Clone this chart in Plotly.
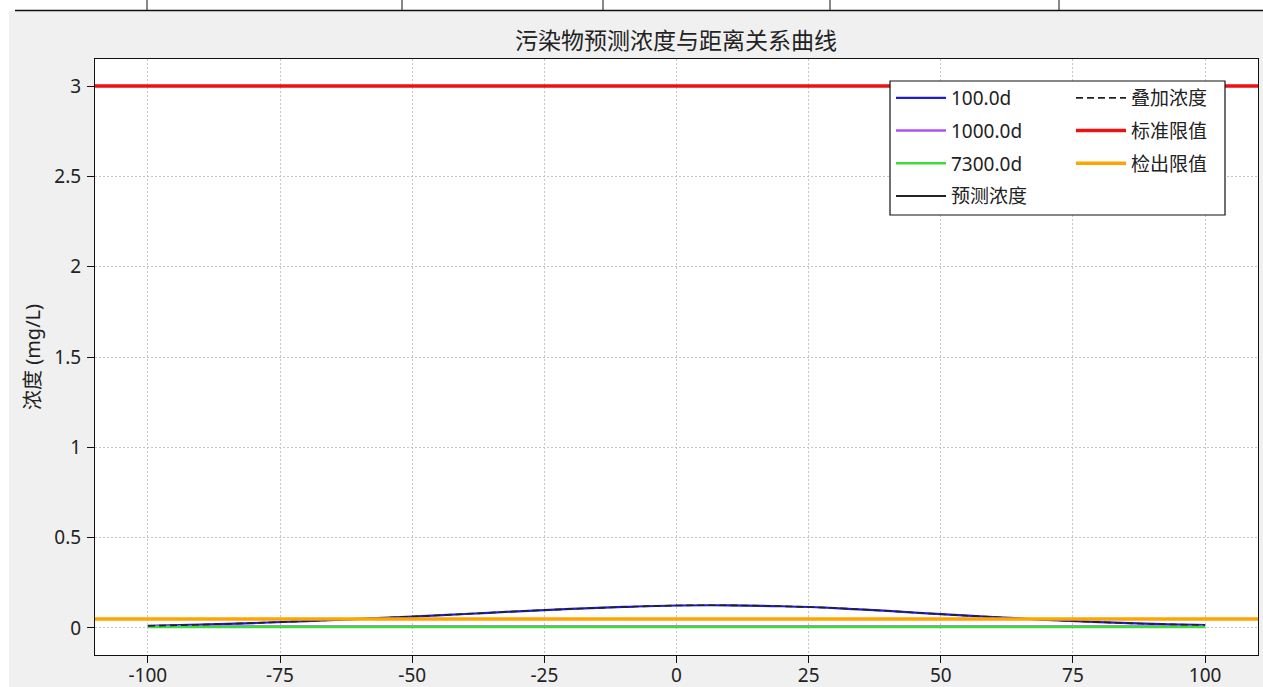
import plotly.graph_objects as go

# ---------------- data ----------------
distance = [-100, -90, -80, -70, -60, -50, -40, -30, -20, -10, 0,
            10, 20, 30, 40, 50, 60, 70, 80, 90, 100]
conc_100d = [0.011, 0.018, 0.027, 0.038, 0.050, 0.063, 0.077, 0.092, 0.105, 0.116, 0.124,
             0.125, 0.120, 0.110, 0.094, 0.076, 0.060, 0.045, 0.032, 0.022, 0.016]
conc_1000d = [0.008, 0.008, 0.008, 0.008, 0.008, 0.008, 0.008, 0.008, 0.008, 0.008, 0.008,
              0.008, 0.008, 0.008, 0.008, 0.008, 0.008, 0.008, 0.008, 0.008, 0.008]
conc_7300d = [0.005, 0.005, 0.005, 0.005, 0.005, 0.005, 0.005, 0.005, 0.005, 0.005, 0.005,
              0.005, 0.005, 0.005, 0.005, 0.005, 0.005, 0.005, 0.005, 0.005, 0.005]
conc_superposed = [0.011, 0.018, 0.027, 0.038, 0.050, 0.063, 0.077, 0.092, 0.105, 0.116, 0.124,
                   0.125, 0.120, 0.110, 0.094, 0.076, 0.060, 0.045, 0.032, 0.022, 0.016]
pred_x = [None]
pred_y = [None]
limit_x = [-110, 110]
standard_limit = [3.0, 3.0]
detect_limit = [0.05, 0.05]

x_tick_vals = [-100, -75, -50, -25, 0, 25, 50, 75, 100]
x_tick_text = ["-100", "-75", "-50", "-25", "0", "25", "50", "75", "100"]
y_tick_vals = [0, 0.5, 1, 1.5, 2, 2.5, 3]
y_tick_text = ["0", "0.5", "1", "1.5", "2", "2.5", "3"]

title_text = "污染物预测浓度与距离关系曲线"
y_title = "浓度 (mg/L)"

# ---------------- layout geometry ----------------
W, H = 1263, 687
ML, MR, MT, MB = 95, 5, 59, 32
PW, PH = W - ML - MR, H - MT - MB


def px_x(p):
    return (p - ML) / PW


def px_y(p):
    return (H - MB - p) / PH


FONT = "Noto Sans, Noto Sans CJK SC, sans-serif"

fig = go.Figure()

fig.add_trace(go.Scatter(x=distance, y=conc_100d, mode="lines", name="100.0d",
                         line=dict(color="#1e1ed8", width=2.2, shape="spline"),
                         legend="legend", legendgroup="a", legendrank=1))
fig.add_trace(go.Scatter(x=distance, y=conc_1000d, mode="lines", name="1000.0d",
                         line=dict(color="#a855f7", width=2.5, shape="spline"),
                         legend="legend", legendgroup="b", legendrank=2))
fig.add_trace(go.Scatter(x=distance, y=conc_7300d, mode="lines", name="7300.0d",
                         line=dict(color="#3ddc3d", width=2.5, shape="spline"),
                         legend="legend", legendgroup="c", legendrank=3))
fig.add_trace(go.Scatter(x=pred_x, y=pred_y, mode="lines", name="预测浓度",
                         line=dict(color="#222222", width=2),
                         legend="legend", legendgroup="d", legendrank=4))
fig.add_trace(go.Scatter(x=distance, y=conc_superposed, mode="lines", name="叠加浓度",
                         line=dict(color="#222222", width=1.6, dash="7px,4px", shape="spline"),
                         legend="legend2", legendgroup="e", legendrank=5))
fig.add_trace(go.Scatter(x=limit_x, y=standard_limit, mode="lines", name="标准限值",
                         line=dict(color="#ee1111", width=3.5),
                         legend="legend2", legendgroup="f", legendrank=6))
fig.add_trace(go.Scatter(x=limit_x, y=detect_limit, mode="lines", name="检出限值",
                         line=dict(color="#ffa500", width=3.5),
                         legend="legend2", legendgroup="g", legendrank=7))

shapes = [
    # white top strip with table row
    dict(type="rect", xref="paper", yref="paper", layer="below",
         x0=px_x(0), x1=px_x(W), y0=px_y(11), y1=px_y(0),
         fillcolor="white", line=dict(width=0)),
    # white left strip
    dict(type="rect", xref="paper", yref="paper", layer="below",
         x0=px_x(0), x1=px_x(9), y0=px_y(H), y1=px_y(0),
         fillcolor="white", line=dict(width=0)),
    # table bottom rule
    dict(type="line", xref="paper", yref="paper", layer="below",
         x0=px_x(15), x1=px_x(W), y0=px_y(10.5), y1=px_y(10.5),
         line=dict(color="#111111", width=1.5)),
    # legend frame
    dict(type="rect", xref="paper", yref="paper", layer="above",
         x0=px_x(890), x1=px_x(1225), y0=px_y(215), y1=px_y(81),
         fillcolor="white", line=dict(color="#111111", width=1.2)),
]
for vx in [147, 402, 603, 830, 1059]:
    shapes.append(dict(type="line", xref="paper", yref="paper", layer="below",
                       x0=px_x(vx), x1=px_x(vx), y0=px_y(0), y1=px_y(10),
                       line=dict(color="#111111", width=1)))

axis_common = dict(
    showgrid=True, gridcolor="#c6c6c6", griddash="2px,2px", gridwidth=1,
    zeroline=False, showline=True, linecolor="#111111", linewidth=1.2,
    mirror=True, ticks="outside", ticklen=7, tickcolor="#111111", tickwidth=1,
    automargin=False,
    tickfont=dict(family=FONT, size=19, color="#222222"),
)

fig.update_layout(
    width=W, height=H,
    margin=dict(l=ML, r=MR, t=MT, b=MB, autoexpand=False),
    paper_bgcolor="#f0f0f0", plot_bgcolor="white",
    font=dict(family=FONT, color="#222222"),
    title=dict(text=title_text, x=px_x(676), xref="paper", xanchor="center",
               y=1 - 41 / H, yanchor="middle",
               font=dict(family=FONT, size=23, color="#222222")),
    xaxis=dict(range=[-110, 110], tickmode="array", tickvals=x_tick_vals,
               ticktext=x_tick_text, ticklabelstandoff=-4, **axis_common),
    yaxis=dict(range=[-0.15, 3.15], tickmode="array", tickvals=y_tick_vals,
               ticktext=y_tick_text, ticklabelstandoff=2,
               title=dict(text=y_title, standoff=8,
                          font=dict(family=FONT, size=20, color="#222222")),
               **axis_common),
    shapes=shapes,
    legend=dict(x=px_x(891), y=px_y(79), xanchor="left", yanchor="top",
                bgcolor="rgba(0,0,0,0)", borderwidth=0, traceorder="grouped",
                tracegroupgap=5, itemwidth=50,
                font=dict(family=FONT, size=19, color="#222222")),
    legend2=dict(x=px_x(1071), y=px_y(79), xanchor="left", yanchor="top",
                 bgcolor="rgba(0,0,0,0)", borderwidth=0, traceorder="grouped",
                 tracegroupgap=5, itemwidth=50,
                 font=dict(family=FONT, size=19, color="#222222")),
    showlegend=True,
)

fig.write_html("out.html",
               config={"displayModeBar": False},
               post_script="document.body.style.margin='0';"
                           "document.body.style.overflow='hidden';")
